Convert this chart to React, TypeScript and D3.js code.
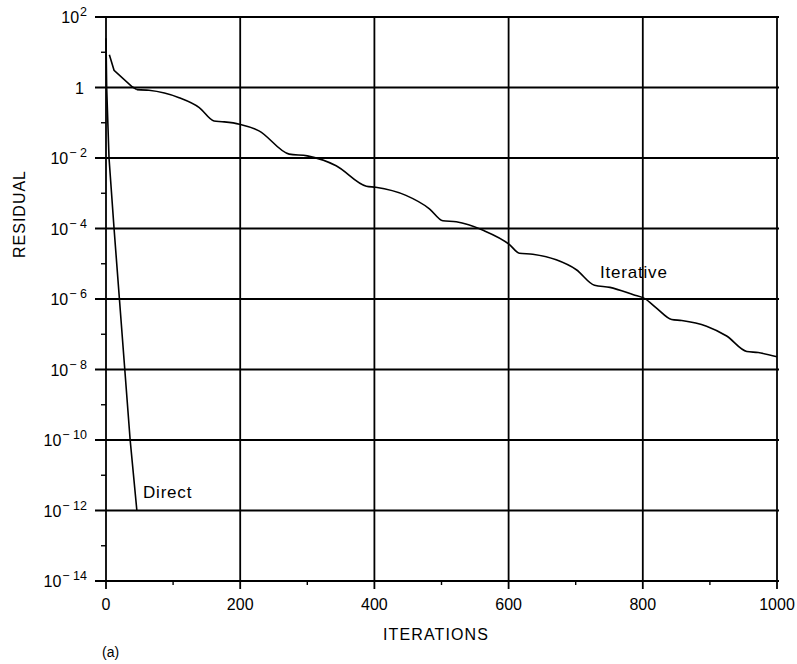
import React from "react";
import * as d3 from "d3";

// Iterative solver: iteration count and log10(residual)
const iterIter = [5, 12, 39, 46, 64, 109, 139, 161, 173, 199, 228, 273, 300, 343, 388, 402, 447, 482, 502, 522, 562, 601, 616, 636, 671, 701, 728, 751, 786, 803, 820, 843, 858, 895, 925, 955, 972, 1000];
const iterLogRes = [0.93, 0.49, 0.02, -0.06, -0.08, -0.29, -0.57, -0.95, -0.97, -1.04, -1.23, -1.89, -1.94, -2.22, -2.8, -2.83, -3.06, -3.44, -3.78, -3.81, -4.05, -4.45, -4.7, -4.73, -4.89, -5.17, -5.61, -5.67, -5.88, -5.99, -6.25, -6.58, -6.61, -6.77, -7.05, -7.49, -7.52, -7.64];

// Direct solver
const directIter = [0, 1, 4.5, 12, 20, 28, 36, 46];
const directLogRes = [1.4, 0, -2, -4, -6, -8, -10, -12];

const xTicks = [0, 200, 400, 600, 800, 1000];
const xMinorTicks = [100, 300, 500, 700, 900];
const yMajorExps = [2, 0, -2, -4, -6, -8, -10, -12, -14];
const yMinorExps = [1, -1, -3, -5, -7, -9, -11, -13];

const FONT = "'Liberation Sans', Arial, Helvetica, sans-serif";

export default function App() {
  const x = d3.scaleLinear().domain([0, 1000]).range([106, 777]);
  const y = d3.scaleLog().domain([1e-14, 1e2]).range([581, 17]);

  const smooth = d3
    .line<[number, number]>()
    .x((d) => x(d[0]))
    .y((d) => y(Math.pow(10, d[1])))
    .curve(d3.curveMonotoneX);
  const straight = d3
    .line<[number, number]>()
    .x((d) => x(d[0]))
    .y((d) => y(Math.pow(10, d[1])));

  const iterData: [number, number][] = iterIter.map((v, i) => [v, iterLogRes[i]]);
  const directData: [number, number][] = directIter.map((v, i) => [v, directLogRes[i]]);
  const iterHead = iterData.slice(0, 4);
  const iterTail = iterData.slice(3);

  const left = x(0);
  const right = x(1000);
  const top = y(1e2);
  const bottom = y(1e-14);

  return (
    <svg width={797} height={664} style={{ position: "absolute", left: 0, top: 0, background: "#fff" }} fontFamily={FONT}>
      <rect width={797} height={664} fill="#fff" />
      {/* horizontal grid lines */}
      {yMajorExps.map((e) => (
        <line key={"h" + e} x1={95} x2={right + 2} y1={y(Math.pow(10, e))} y2={y(Math.pow(10, e))} stroke="#000" strokeWidth={1.8} />
      ))}
      {/* vertical grid lines */}
      {xTicks.map((t) => (
        <line key={"v" + t} x1={x(t)} x2={x(t)} y1={top} y2={bottom + 8} stroke="#000" strokeWidth={1.8} />
      ))}
      {/* minor ticks */}
      {yMinorExps.map((e) => (
        <line key={"my" + e} x1={left - 5} x2={left} y1={y(Math.pow(10, e))} y2={y(Math.pow(10, e))} stroke="#000" strokeWidth={1.4} />
      ))}
      {xMinorTicks.map((t) => (
        <line key={"mx" + t} x1={x(t)} x2={x(t)} y1={bottom} y2={bottom + 4} stroke="#000" strokeWidth={1.4} />
      ))}
      {/* y tick labels */}
      {yMajorExps.map((e) => {
        const yy = y(Math.pow(10, e)) + 6;
        if (e === 0) {
          return (
            <text key={"yl" + e} x={84} y={yy} textAnchor="end" fontSize={16} fill="#000">
              1
            </text>
          );
        }
        const sup = e < 0 ? "\u2212 " + Math.abs(e) : String(e);
        return (
          <text key={"yl" + e} x={87} y={yy} textAnchor="end" fontSize={16} fill="#000">
            10
            <tspan dx={1} dy={-7} fontSize={12.5}>
              {sup}
            </tspan>
          </text>
        );
      })}
      {/* x tick labels */}
      {xTicks.map((t) => (
        <text key={"xl" + t} x={x(t)} y={610} textAnchor="middle" fontSize={16} fill="#000">
          {t}
        </text>
      ))}
      {/* axis titles */}
      <text x={436} y={640} textAnchor="middle" fontSize={16} letterSpacing={1.1} fill="#000">
        ITERATIONS
      </text>
      <text transform="translate(25,214) rotate(-90)" textAnchor="middle" fontSize={16} letterSpacing={1} fill="#000">
        RESIDUAL
      </text>
      <text x={102} y={657} fontSize={14} fill="#000">
        (a)
      </text>
      {/* curves */}
      <path d={straight(iterHead) || ""} fill="none" stroke="#000" strokeWidth={1.6} />
      <path d={smooth(iterTail) || ""} fill="none" stroke="#000" strokeWidth={1.6} />
      <path d={straight(directData) || ""} fill="none" stroke="#000" strokeWidth={1.6} />
      {/* curve labels */}
      <text x={600} y={278} fontSize={17} letterSpacing={0.8} fill="#000">
        Iterative
      </text>
      <text x={143} y={498} fontSize={17} letterSpacing={0.8} fill="#000">
        Direct
      </text>
    </svg>
  );
}
